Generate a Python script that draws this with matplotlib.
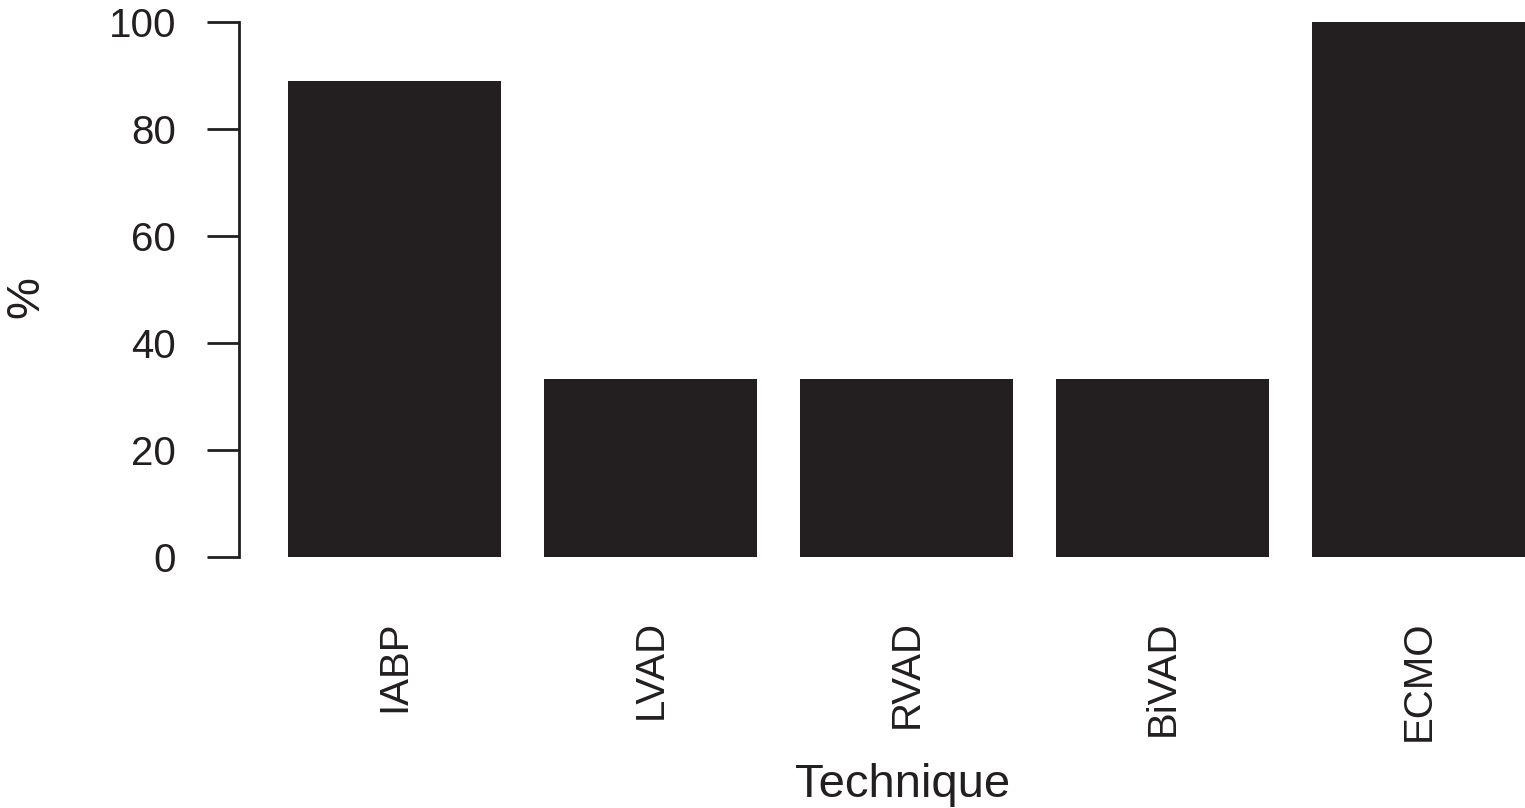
import numpy as np
import matplotlib.pyplot as plt

# data
techniques = ['IABP', 'LVAD', 'RVAD', 'BiVAD', 'ECMO']
percent = [89, 33.3, 33.3, 33.3, 100]

ink = '#231f20'
plt.rcParams['font.family'] = ['Liberation Sans', 'DejaVu Sans']

W, H = 1525, 808
fig = plt.figure(figsize=(W / 100, H / 100), dpi=100)
ax = fig.add_axes([238.6 / W, 1 - 578.4 / H, 1 - 238.6 / W, (578.4 - 0.44) / H])

# R style barplot: width 1, space 0.2
x = 0.2 + np.arange(len(techniques)) * 1.2 + 0.5
ax.bar(x, percent, width=1.0, color=ink)
ax.set_xlim(-0.032, 6.0)
ax.set_ylim(-4, 104)

for s in ['top', 'right', 'bottom']:
    ax.spines[s].set_visible(False)
ax.spines['left'].set_bounds(0, 100)
ax.spines['left'].set_linewidth(2)
ax.spines['left'].set_color(ink)

ax.set_yticks([0, 20, 40, 60, 80, 100])
ax.tick_params(axis='y', length=23, width=2, pad=22, labelsize=29, colors=ink)
ax.set_xticks(x)
ax.set_xticklabels(techniques)
ax.tick_params(axis='x', length=0, pad=30, labelsize=29, labelrotation=90, colors=ink)

fig.text(902.5 / W, 1 - 797 / H, 'Technique', ha='center', va='baseline', fontsize=34, color=ink)
fig.text(26 / W, 1 - 297 / H, '%', rotation=90, ha='center', va='center', fontsize=34, color=ink)

fig.savefig('out.png', dpi=100)
